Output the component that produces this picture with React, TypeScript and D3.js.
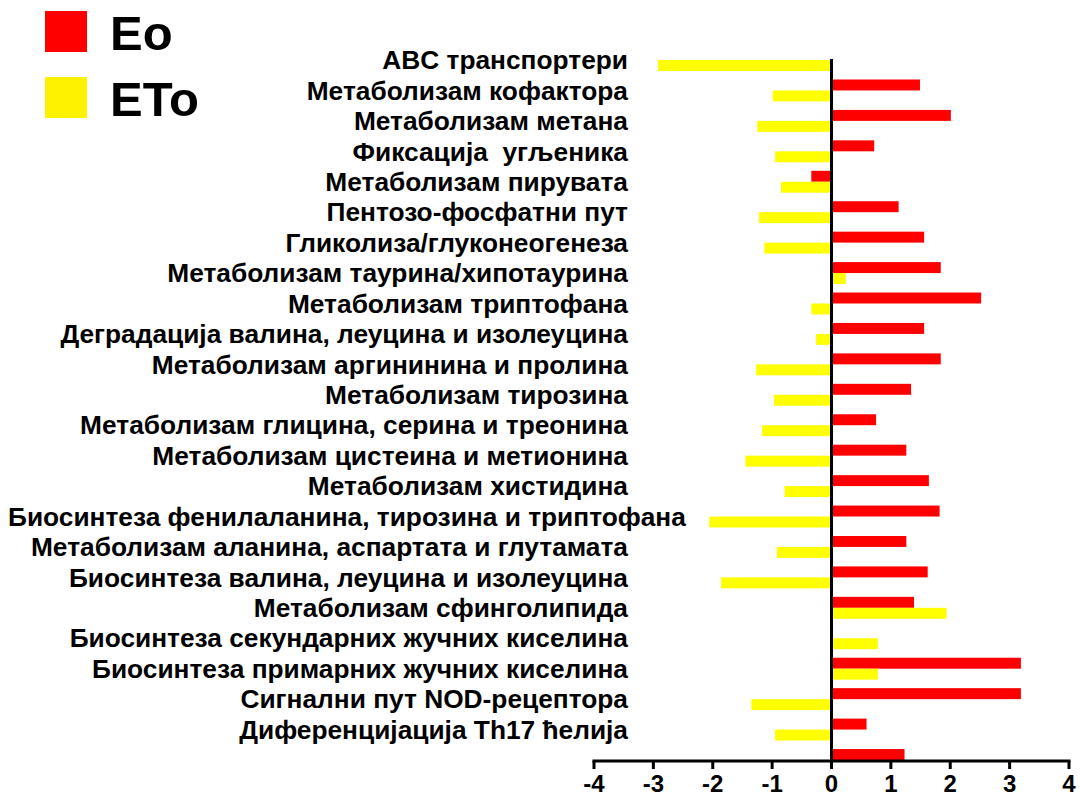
import React, { useEffect, useRef } from "react";
import * as d3 from "d3";

const categories = [
  "ABC транспортери",
  "Метаболизам кофактора",
  "Метаболизам метана",
  "Фиксација  угљеника",
  "Метаболизам пирувата",
  "Пентозо-фосфатни пут",
  "Гликолиза/глуконеогенеза",
  "Метаболизам таурина/хипотаурина",
  "Метаболизам триптофана",
  "Деградација валина, леуцина и изолеуцина",
  "Метаболизам аргининина и пролина",
  "Метаболизам тирозина",
  "Метаболизам глицина, серина и треонина",
  "Метаболизам цистеина и метионина",
  "Метаболизам хистидина",
  "Биосинтеза фенилаланина, тирозина и триптофана",
  "Метаболизам аланина, аспартата и глутамата",
  "Биосинтеза валина, леуцина и изолеуцина",
  "Метаболизам сфинголипида",
  "Биосинтеза секундарних жучних киселина",
  "Биосинтеза примарних жучних киселина",
  "Сигнални пут NOD-рецептора",
  "Диференцијација Th17 ћелија",
  "",
];

const eo = [0, 1.49, 2.01, 0.72, -0.34, 1.13, 1.56, 1.84, 2.52, 1.56, 1.84, 1.34, 0.75, 1.26, 1.64, 1.82, 1.26, 1.62, 1.39, 0, 3.19, 3.19, 0.59, 1.23];
const eto = [-2.92, -0.99, -1.25, -0.95, -0.85, -1.22, -1.13, 0.24, -0.34, -0.26, -1.27, -0.97, -1.17, -1.45, -0.79, -2.06, -0.92, -1.86, 1.94, 0.78, 0.78, -1.35, -0.95, 0];

const seriesNames = ["Eo", "ETo"];
const seriesColors = ["#ff0000", "#ffff00"];
const legendColors = ["#ff0000", "#fff200"];
const xTicks = [-4, -3, -2, -1, 0, 1, 2, 3, 4];

const W = 1080;
const H = 798;

export default function App() {
  const ref = useRef<SVGSVGElement | null>(null);

  useEffect(() => {
    const svg = d3.select(ref.current);
    svg.selectAll("*").remove();
    const font = "'Liberation Sans', Arial, sans-serif";

    const x = d3.scaleLinear().domain([-4, 4]).range([594, 1069]);
    const idx = categories.map((_, i) => String(i));
    const y = d3
      .scaleBand<string>()
      .domain(idx)
      .range([44.8, 775.2])
      .paddingInner(0.28)
      .paddingOuter(0.14);
    const bw = y.bandwidth() / 2;

    const g = svg.append("g");

    g.selectAll("rect.eo")
      .data(eo)
      .join("rect")
      .attr("class", "eo")
      .attr("x", (d) => x(Math.min(0, d)))
      .attr("width", (d) => Math.abs(x(d) - x(0)))
      .attr("y", (_, i) => y(String(i))!)
      .attr("height", bw)
      .attr("fill", seriesColors[0]);

    g.selectAll("rect.eto")
      .data(eto)
      .join("rect")
      .attr("class", "eto")
      .attr("x", (d) => x(Math.min(0, d)))
      .attr("width", (d) => Math.abs(x(d) - x(0)))
      .attr("y", (_, i) => y(String(i))! + bw)
      .attr("height", bw)
      .attr("fill", seriesColors[1]);

    const axisY = y(String(categories.length - 1))! + bw + 1;
    g.append("line")
      .attr("x1", x(0))
      .attr("x2", x(0))
      .attr("y1", 59)
      .attr("y2", axisY)
      .attr("stroke", "#000")
      .attr("stroke-width", 3);

    const ax = svg.append("g").attr("transform", `translate(0,${axisY})`);
    ax.append("line")
      .attr("x1", x(-4) - 1.5)
      .attr("x2", x(4) + 1.5)
      .attr("stroke", "#000")
      .attr("stroke-width", 3);
    ax.selectAll("line.tick")
      .data(xTicks)
      .join("line")
      .attr("class", "tick")
      .attr("x1", (d) => x(d))
      .attr("x2", (d) => x(d))
      .attr("y1", 0)
      .attr("y2", 8)
      .attr("stroke", "#000")
      .attr("stroke-width", 3);
    ax.selectAll("text")
      .data(xTicks)
      .join("text")
      .attr("x", (d) => x(d))
      .attr("y", 31)
      .attr("text-anchor", "middle")
      .attr("font-family", font)
      .attr("font-weight", "bold")
      .attr("font-size", 24)
      .text((d) => String(d));

    const labelRight = 628;
    const labels = svg
      .append("g")
      .selectAll("text")
      .data(categories)
      .join("text")
      .attr("x", labelRight)
      .attr("y", (_, i) => y(String(i))! + bw)
      .attr("dy", "0.35em")
      .attr("text-anchor", "end")
      .attr("font-family", font)
      .attr("font-weight", "bold")
      .attr("font-size", 26.3)
      .style("white-space", "pre")
      .text((d) => d);
    labels.each(function () {
      const el = this as SVGTextElement;
      const len = el.getComputedTextLength();
      if (labelRight - len < 8) {
        d3.select(el).attr("text-anchor", "start").attr("x", 8);
      }
    });

    const lg = svg.append("g");
    seriesNames.forEach((name, i) => {
      lg.append("rect")
        .attr("x", 45)
        .attr("y", 11 + i * 66)
        .attr("width", 42)
        .attr("height", 41)
        .attr("fill", legendColors[i]);
      lg.append("text")
        .attr("x", 110)
        .attr("y", 49.5 + i * 66)
        .attr("font-family", font)
        .attr("font-weight", "bold")
        .attr("font-size", 49)
        .text(name);
    });
  }, []);

  return (
    <svg
      ref={ref}
      width={W}
      height={H}
      style={{ position: "absolute", left: 0, top: 0, background: "#fff" }}
    />
  );
}
